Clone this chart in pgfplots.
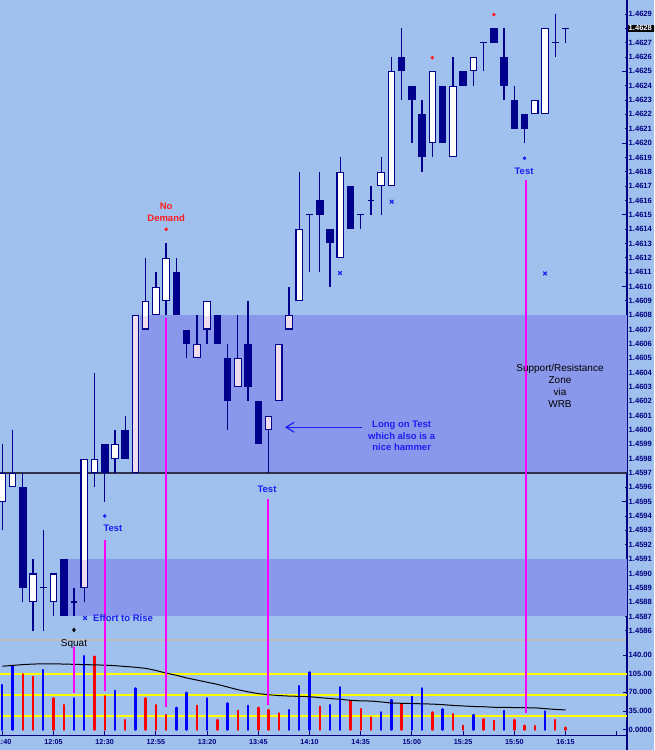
\documentclass[border=0pt]{standalone}
\usepackage{pgfplots}
\pgfplotsset{compat=1.18}
\usepackage{pgfplotstable}
\usepackage{fontspec}
\setmainfont{Liberation Sans}
\usetikzlibrary{arrows.meta}

\definecolor{bg}{HTML}{A0C0EE}
\definecolor{zone}{HTML}{8A98EC}
\definecolor{candle}{HTML}{00008C}
\definecolor{pinkc}{HTML}{EEDCEE}
\definecolor{axisnavy}{HTML}{000080}
\definecolor{mag}{HTML}{FF00FF}
\definecolor{txtblue}{HTML}{1E1EF0}
\definecolor{txtred}{HTML}{FF1E1E}
\definecolor{sep}{HTML}{C0C0C0}
\definecolor{ylw}{HTML}{FFFF00}
\definecolor{zline}{HTML}{303048}

% up candles: i open high low close (prices)
\pgfplotstableread{
i o h l c
0 1.4595 1.4599 1.4593 1.4597
1 1.4596 1.4600 1.4596 1.4597
3 1.4588 1.4591 1.4586 1.4590
5 1.4588 1.4590 1.4587 1.4590
8 1.4589 1.4598 1.4588 1.4598
9 1.4597 1.4604 1.4596 1.4598
11 1.4598 1.4600 1.4597 1.4599
13 1.4597 1.4608 1.4597 1.4608
14 1.4607 1.4612 1.4607 1.4609
15 1.4608 1.4611 1.4608 1.4610
16 1.4609 1.4613 1.4608 1.4612
19 1.4605 1.4608 1.4605 1.4606
20 1.4607 1.4609 1.4606 1.4609
23 1.4603 1.4608 1.4603 1.4605
26 1.4600 1.4601 1.4597 1.4601
27 1.4602 1.4606 1.4602 1.4606
28 1.4607 1.4610 1.4607 1.4608
29 1.4609 1.4618 1.4609 1.4614
33 1.4612 1.4619 1.4612 1.4618
37 1.4617 1.4619 1.4615 1.4618
38 1.4617 1.4626 1.4617 1.4625
42 1.4620 1.4625 1.4619 1.4625
44 1.4619 1.4626 1.4619 1.4624
46 1.4625 1.4626 1.4624 1.4626
52 1.4622 1.4623 1.4622 1.4623
53 1.4622 1.4628 1.4622 1.4628
}\upc

% down candles
\pgfplotstableread{
i o h l c
2 1.4596 1.4597 1.4588 1.4589
6 1.4591 1.4591 1.4587 1.4587
10 1.4599 1.4599 1.4595 1.4597
12 1.4600 1.4601 1.4598 1.4598
17 1.4611 1.4612 1.4608 1.4608
18 1.4607 1.4607 1.4605 1.4606
21 1.4608 1.4608 1.4606 1.4606
22 1.4605 1.4606 1.4600 1.4602
24 1.4606 1.4609 1.4602 1.4603
25 1.4602 1.4602 1.4599 1.4599
31 1.4616 1.4618 1.4611 1.4615
32 1.4614 1.4614 1.4610 1.4613
34 1.4617 1.4617 1.4614 1.4614
39 1.4626 1.4628 1.4623 1.4625
40 1.4624 1.4624 1.4620 1.4623
41 1.4622 1.4623 1.4618 1.4619
43 1.4624 1.4624 1.4620 1.4620
45 1.4625 1.4625 1.4624 1.4624
48 1.4628 1.4628 1.4627 1.4627
49 1.4626 1.4628 1.4623 1.4624
50 1.4623 1.4624 1.4621 1.4621
51 1.4622 1.4622 1.4620 1.4621
}\downc

% doji candles (open = close)
\pgfplotstableread{
i o h l c
4 1.4589 1.4593 1.4586 1.4589
7 1.4588 1.4589 1.4587 1.4588
30 1.4615 1.4615 1.4611 1.4615
35 1.4615 1.4615 1.4614 1.4615
36 1.4616 1.4617 1.4615 1.4616
47 1.4627 1.4627 1.4625 1.4627
54 1.4627 1.4629 1.4626 1.4627
55 1.4628 1.4628 1.4627 1.4628
}\dojic

% part of white bodies lying in a zone
\pgfplotstableread{
i a b
8 1.4589 1.4591
13 1.4597 1.4608
14 1.4607 1.4608
19 1.4605 1.4606
20 1.4607 1.4608
23 1.4603 1.4605
26 1.4600 1.4601
27 1.4602 1.4606
28 1.4607 1.4608
}\pinkc

% volume, rising bars
\pgfplotstableread{
i v
0 83.7
1 119
4 111.8
7 58.8
8 138
11 73
13 77.5
17 41.2
18 69.3
20 58.8
22 49.4
24 45
28 36.9
29 81.8
30 107.4
32 46.2
33 79.4
37 32.6
38 55.6
40 61.8
41 77.5
43 38.2
46 27.5
49 35
53 34.4
}\volup

% volume, falling bars
\pgfplotstableread{
i v
2 103.7
3 99.2
5 58.8
6 46.2
9 137
10 63
12 18.2
14 58.8
15 46.2
16 27.5
19 45
21 18.2
23 35.6
25 41.2
26 36.9
27 30.7
31 43
34 53.7
35 38.8
36 23.2
39 48.1
42 32.6
44 29.4
45 7.5
47 19.5
48 16.8
50 18.2
51 7.5
52 7
54 18.2
55 3.7
}\voldown

% volume moving average
\pgfplotstableread{
i m
0 119
1 120.5
2 122
3 123
4 123.5
5 123.5
6 123
7 122.5
8 122
9 121.5
10 121
11 120
12 118.5
13 117
14 115
15 111
16 106
17 102
18 97
19 93
20 89
21 85
22 80
23 75
24 71
25 67.5
26 65.5
27 64
28 63
29 62.5
30 62
31 60
32 58.5
33 57
34 55
35 54
36 53.7
37 52
38 50
39 49.5
40 49
41 48.5
42 48
43 47
44 45.5
45 44.5
46 43.5
47 43
48 42
49 41.8
50 41.5
51 41.2
52 41
53 39.5
54 38
55 37
}\mavol

\pgfplotsset{
  wick/.style={draw=none, mark=none, error bars/.cd, y dir=plus, y explicit,
    error mark=none, error bar style={draw=candle, line width=1.3pt}},
  bodyst/.style 2 args={draw=none, mark=none, error bars/.cd, y dir=plus, y explicit,
    error mark=none, error bar style={draw=#1, line width=#2}},
  innerst/.style 2 args={draw=none, mark=none, error bars/.cd, y dir=plus, y explicit,
    error mark=none, error bar style={draw=#1, line width=#2, shorten <=1.1pt, shorten >=1.1pt}},
}

\newcommand{\annb}{\fontsize{9.5}{11.6}\selectfont\bfseries}
\newcommand{\annr}{\fontsize{10}{12}\selectfont}

\begin{document}
\begin{tikzpicture}
\begin{scope}
\clip (0pt,0pt) rectangle (654pt,750pt);
\fill[bg] (0pt,0pt) rectangle (654pt,750pt);

% ---------------- price panel (y in pips above 1.4500) ----------------
\begin{axis}[
  name=price,
  at={(0pt,110pt)}, anchor=south west,
  width=627pt, height=640pt, scale only axis,
  xmin=-0.2246, xmax=61.006,
  ymin=85.358, ymax=129.973,
  axis x line*=bottom, axis y line*=right,
  x axis line style={draw=sep, line width=1.5pt, -},
  y axis line style={draw=axisnavy, line width=1.3pt, -},
  xtick=\empty,
  ytick={86,87,...,129},
  yticklabels={1.4586,1.4587,1.4588,1.4589,1.4590,1.4591,1.4592,1.4593,1.4594,1.4595,1.4596,1.4597,1.4598,1.4599,1.4600,1.4601,1.4602,1.4603,1.4604,1.4605,1.4606,1.4607,1.4608,1.4609,1.4610,1.4611,1.4612,1.4613,1.4614,1.4615,1.4616,1.4617,1.4618,1.4619,1.4620,1.4621,1.4622,1.4623,1.4624,1.4625,1.4626,1.4627,{},1.4629},
  minor ytick={90,95,...,125},
  tick align=inside, major tick length=2.5pt, minor tick length=5pt,
  every tick/.style={draw=axisnavy, line width=0.9pt},
  yticklabel style={font=\fontsize{7.6}{8}\selectfont\bfseries, text=axisnavy, anchor=west, inner sep=0pt},
  yticklabel shift=1.5pt,
  extra y ticks={128}, extra y tick labels={1.4628},
  extra y tick style={yticklabel style={fill=black, text=white, inner xsep=1pt, inner ysep=1pt, text width=28pt, align=left, xshift=-1pt}},
]
% zones
\addplot[fill=zone, draw=none] coordinates {(13.45,97) (61.006,97) (61.006,108) (13.45,108)};
\addplot[fill=zone, draw=none] coordinates {(6.45,87) (61.006,87) (61.006,91) (6.45,91)};
% level line
\addplot[zline, line width=1.3pt] coordinates {(-0.2246,97) (61.006,97)};
% magenta markers (upper parts)
\addplot[mag, line width=2pt] coordinates {(10,92.33) (10,85.358)};
\addplot[mag, line width=2pt] coordinates {(16,107.81) (16,85.358)};
\addplot[mag, line width=2pt] coordinates {(25.92,95.19) (25.92,85.358)};
\addplot[mag, line width=2pt] coordinates {(51.1,117.43) (51.1,85.358)};

% candles: wicks
\addplot[wick] table[x=i, y expr=(\thisrow{l}-1.45)*10000, y error expr=(\thisrow{h}-\thisrow{l})*10000] {\upc};
\addplot[wick] table[x=i, y expr=(\thisrow{l}-1.45)*10000, y error expr=(\thisrow{h}-\thisrow{l})*10000] {\downc};
\addplot[wick] table[x=i, y expr=(\thisrow{l}-1.45)*10000, y error expr=(\thisrow{h}-\thisrow{l})*10000] {\dojic};
% doji crossbars
\addplot[draw=none, mark=none, error bars/.cd, x dir=both, x fixed=0.33, error mark=none,
  error bar style={draw=candle, line width=1.3pt}] table[x=i, y expr=(\thisrow{o}-1.45)*10000] {\dojic};
% up bodies
\addplot[bodyst={candle}{7.6pt}] table[x=i, y expr=(\thisrow{o}-1.45)*10000, y error expr=(\thisrow{c}-\thisrow{o})*10000] {\upc};
\addplot[innerst={white}{5.4pt}] table[x=i, y expr=(\thisrow{o}-1.45)*10000, y error expr=(\thisrow{c}-\thisrow{o})*10000] {\upc};
\addplot[innerst={pinkc}{5.4pt}] table[x=i, y expr=(\thisrow{a}-1.45)*10000, y error expr=(\thisrow{b}-\thisrow{a})*10000] {\pinkc};
% down bodies
\addplot[bodyst={candle}{7.6pt}] table[x=i, y expr=(\thisrow{c}-1.45)*10000, y error expr=(\thisrow{o}-\thisrow{c})*10000] {\downc};

% signal dots
\addplot[only marks, mark=*, mark size=1.6pt, txtred] coordinates {(16,113.99) (42,125.95) (48,128.95)};
\addplot[only marks, mark=*, mark size=1.6pt, txtblue] coordinates {(10,94.0) (51,118.94)};
\addplot[only marks, mark=diamond*, mark size=2pt, black] coordinates {(7,86.06)};
\addplot[only marks, mark=x, mark size=2.6pt, txtblue, line width=1.1pt]
  coordinates {(32.98,110.94) (38.03,115.91) (53.0,110.91) (8.08,86.89)};

% annotations
\node[font=\annb, text=txtred, align=center] at (axis cs:16,115.16) {No\\Demand};
\node[font=\annb, text=txtblue] at (axis cs:10.81,93.17) {Test};
\node[font=\annb, text=txtblue] at (axis cs:25.85,95.88) {Test};
\node[font=\annb, text=txtblue] at (axis cs:50.95,118.00) {Test};
\node[font=\annb, text=txtblue, anchor=west, inner sep=0pt] at (axis cs:8.86,86.89) {Effort to Rise};
\node[font=\annb, text=txtblue, align=center] at (axis cs:39.0,99.58) {Long on Test\\which also is a\\nice hammer};
\node[font=\annr, text=black, align=center] at (axis cs:54.46,103.04) {Support/Resistance\\Zone\\via\\WRB};
\draw[txtblue, line width=1.2pt, -{Straight Barb[length=8pt, width=10pt]}]
  (axis cs:35.1,100.19) -- (axis cs:27.61,100.19);
\end{axis}

% ---------------- volume panel ----------------
\begin{axis}[
  name=vol,
  at={(0pt,15pt)}, anchor=south west,
  width=627pt, height=95pt, scale only axis,
  xmin=-0.2246, xmax=61.006,
  ymin=-9.93, ymax=168.1,
  axis x line*=bottom, axis y line*=right,
  x axis line style={draw=axisnavy, line width=0.9pt, -},
  y axis line style={draw=axisnavy, line width=1.3pt, -},
  xtick={0,5,...,60},
  xticklabels={11:40,12:05,12:30,12:55,13:20,13:45,14:10,14:35,15:00,15:25,15:50,16:15,{}},
  xtick style={draw=axisnavy, line width=0.9pt},
  xticklabel style={font=\fontsize{7.2}{8}\selectfont\bfseries, text=axisnavy, anchor=north, inner sep=0pt, yshift=-4.5pt},
  ytick={0,35,70,105,140},
  yticklabels={0.0000,35.000,70.000,105.00,140.00},
  ytick style={draw=axisnavy, line width=0.9pt},
  tick align=inside, major tick length=4pt,
  yticklabel style={font=\fontsize{7.6}{8}\selectfont\bfseries, text=axisnavy, anchor=west, inner sep=0pt},
  yticklabel shift=1.5pt,
]
\addplot[ylw, line width=2pt] coordinates {(-0.2246,105) (61.006,105)};
\addplot[ylw, line width=2pt] coordinates {(-0.2246,65.5) (61.006,65.5)};
\addplot[ylw, line width=2pt] coordinates {(-0.2246,24.9) (61.006,24.9)};
\addplot[ycomb, draw=blue, line width=2.4pt, line cap=round, mark=none] table[x=i, y=v] {\volup};
\addplot[ycomb, draw=red, line width=2.4pt, line cap=round, mark=none] table[x=i, y=v] {\voldown};
\addplot[black, line width=1pt, mark=none] table[x=i, y=m] {\mavol};
% magenta markers (lower parts)
\addplot[mag, line width=2pt] coordinates {(7,155) (7,69.3)};
\addplot[mag, line width=2pt] coordinates {(10,168.1) (10,72.4)};
\addplot[mag, line width=2pt] coordinates {(16,168.1) (16,43.1)};
\addplot[mag, line width=2pt] coordinates {(25.92,168.1) (25.92,46.3)};
\addplot[mag, line width=2pt] coordinates {(51.1,168.1) (51.1,30.7)};
\node[font=\annr, text=black] at (axis cs:7,160.6) {Squat};
\end{axis}
\draw[axisnavy, line width=1.3pt] (vol.south east) -- ++(0pt,-16pt);
\end{scope}
\pgfresetboundingbox
\useasboundingbox (0pt,0pt) rectangle (654pt,750pt);
\end{tikzpicture}
\end{document}
